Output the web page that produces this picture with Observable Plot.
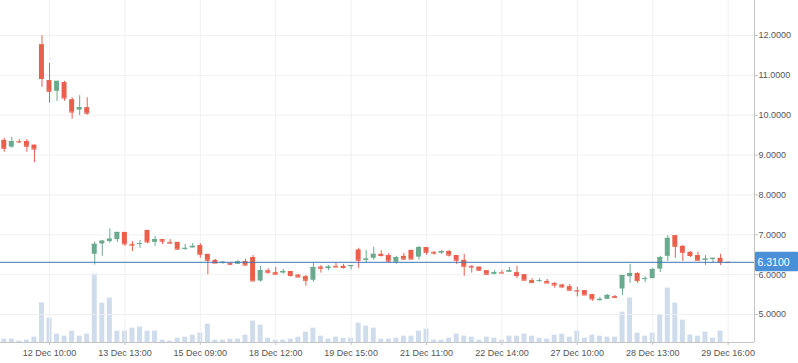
<!DOCTYPE html>
<html><head><meta charset="utf-8">
<script src="https://cdn.jsdelivr.net/npm/d3@7"></script>
<script src="https://cdn.jsdelivr.net/npm/@observablehq/plot@0.6"></script>
<style>
html,body{margin:0;padding:0;background:#fff;}
#wrap{position:relative;width:798px;height:363px;overflow:hidden;}
#wrap svg{position:absolute;left:0;top:0;}
</style></head><body><div id="wrap"></div>
<script>
const opens = [9.37,9.20,9.34,9.34,9.25,11.77,10.87,10.60,10.82,10.39,10.13,10.19,
  6.51,6.77,6.83,6.88,7.06,6.76,6.77,7.11,6.81,6.88,6.81,6.81,6.64,6.67,6.73,6.51,6.36,6.29,
  6.28,6.26,6.33,6.43,5.84,6.10,6.05,6.04,6.08,5.99,5.95,5.86,6.19,6.15,6.21,6.21,6.20,6.62,
  6.36,6.41,6.51,6.48,6.31,6.46,6.61,6.44,6.68,6.56,6.54,6.58,6.48,6.36,6.21,6.19,6.10,6.01,
  6.05,6.06,6.05,6.00,5.85,5.84,5.83,5.78,5.74,5.70,5.60,5.60,5.50,5.35,5.38,5.45,5.64,5.95,
  6.03,5.88,5.90,6.14,6.46,6.98,6.71,6.56,6.48,6.36,6.38,6.41,6.31];
const highs = [9.42,9.44,9.39,9.39,9.25,11.99,11.30,10.85,10.85,10.44,10.49,10.44,
  6.82,6.86,7.15,7.06,7.06,6.83,6.86,7.11,6.96,6.88,6.88,6.81,6.76,6.78,6.78,6.51,6.38,6.33,
  6.31,6.36,6.39,6.48,6.21,6.15,6.18,6.13,6.08,6.00,5.98,6.29,6.23,6.23,6.29,6.26,6.23,6.66,
  6.60,6.69,6.60,6.53,6.46,6.53,6.61,6.71,6.68,6.58,6.61,6.61,6.48,6.51,6.23,6.19,6.10,6.10,
  6.10,6.18,6.21,6.00,5.90,5.90,5.88,5.80,5.76,5.75,5.68,5.60,5.50,5.43,5.50,5.48,5.98,6.26,
  6.05,5.95,6.16,6.46,6.98,6.98,6.73,6.58,6.56,6.48,6.41,6.51,6.31];
const lows = [9.07,9.17,9.29,9.07,8.81,10.70,10.30,10.35,10.35,9.90,9.99,10.00,
  6.24,6.46,6.79,6.81,6.71,6.58,6.66,6.78,6.71,6.76,6.79,6.61,6.61,6.67,6.41,6.00,6.29,6.26,
  6.23,6.26,6.21,5.84,5.81,6.01,6.01,6.01,5.94,5.94,5.71,5.81,6.04,6.10,6.19,6.14,6.12,6.16,
  6.29,6.36,6.44,6.29,6.26,6.36,6.39,6.36,6.49,6.49,6.51,6.44,6.26,5.96,6.04,6.09,5.99,5.99,
  6.04,6.06,5.90,5.86,5.80,5.81,5.79,5.66,5.66,5.59,5.44,5.49,5.33,5.33,5.38,5.40,5.48,5.78,
  5.78,5.80,5.90,6.05,6.33,6.41,6.33,6.43,6.36,6.23,6.29,6.23,6.31];
const closes = [9.17,9.34,9.33,9.22,9.15,10.92,10.60,10.85,10.43,10.08,10.19,10.05,
  6.76,6.84,6.89,7.06,6.77,6.74,6.78,6.82,6.88,6.84,6.79,6.64,6.66,6.71,6.51,6.36,6.29,6.31,
  6.26,6.32,6.24,5.84,6.10,6.06,6.01,6.08,5.98,5.94,5.86,6.18,6.16,6.19,6.19,6.18,6.23,6.36,
  6.39,6.51,6.48,6.34,6.43,6.39,6.39,6.68,6.56,6.54,6.58,6.49,6.36,6.21,6.19,6.11,6.01,6.05,
  6.04,6.10,5.98,5.86,5.80,5.85,5.79,5.74,5.69,5.61,5.59,5.49,5.39,5.38,5.48,5.43,5.98,6.03,
  5.85,5.90,6.13,6.43,6.91,6.71,6.56,6.48,6.36,6.39,6.41,6.31,6.31];
const volumes = [10,10,4,7,16,119,73,25,19,34,19,25,
  205,118,133,34,34,43,46,34,34,7,4,13,16,22,28,55,7,7,
  10,10,22,64,52,13,7,7,10,16,31,43,19,10,16,12,13,58,
  49,43,10,10,13,19,19,34,40,7,7,13,25,19,16,7,16,13,
  7,19,19,25,19,13,10,22,25,16,34,13,22,19,16,16,91,133,
  28,19,28,82,163,118,67,22,19,31,13,34,0];
const tickIndex = [6,16,26,36,46,56,66,76,86,96];
const tickLabels = ["12 Dec 10:00","13 Dec 13:00","15 Dec 09:00","18 Dec 12:00","19 Dec 15:00",
  "21 Dec 11:00","22 Dec 14:00","27 Dec 10:00","28 Dec 13:00","29 Dec 16:00"];
const yTicks = [5,6,7,8,9,10,11,12];
const lastPrice = 6.31;

const RED = "#ea5f4c", GREEN = "#6aaa8e", VOL = "#cfdcec", GRID = "#eeeeee", AXIS = "#c4c4c4";
const FONT = "Liberation Sans, Arial, sans-serif";
const W = 798, H = 363;
const candles = opens.map((o, i) => ({i, o, h: highs[i], l: lows[i], c: closes[i], v: volumes[i],
  dir: closes[i] > o ? "up" : "down"}));
const slots = d3.range(opens.length + 3);
const xScale = {type: "band", domain: slots, paddingInner: 0.34, paddingOuter: 0.17};
const yDomain = [4.298, 12.878];
const volShare = 0.2;
const common = {width: W, height: H, marginLeft: 0, marginRight: 44, marginTop: 0, marginBottom: 21};
const style = {fontFamily: FONT, fontSize: "9px", color: "#555", background: "transparent"};

const volPlot = Plot.plot({
  ...common, style,
  x: {...xScale, axis: null, label: null},
  y: {domain: [0, d3.max(volumes) / volShare], axis: null, label: null},
  marks: [
    Plot.barY(candles, {x: "i", y: "v", fill: VOL})
  ]
});

const pricePlot = Plot.plot({
  ...common, style,
  x: {...xScale, axis: null, label: null},
  y: {domain: yDomain, axis: null, label: null},
  color: {domain: ["up", "down"], range: [GREEN, RED]},
  marks: [
    Plot.gridY(yTicks, {stroke: GRID, strokeOpacity: 0.9}),
    Plot.gridX(tickIndex, {stroke: GRID, strokeOpacity: 0.9}),
    Plot.ruleY([yDomain[0]], {stroke: AXIS}),
    Plot.ruleX(candles, {x: "i", y1: "l", y2: "h", stroke: "dir"}),
    Plot.barY(candles, {x: "i", y1: "o", y2: "c", fill: "dir"}),
    Plot.tickY(candles, {x: "i", y: "c", stroke: "dir"}),
    Plot.ruleY([lastPrice], {stroke: "#3f76b8", strokeWidth: 1}),
    Plot.axisY(yTicks, {anchor: "right", label: null, tickSize: 3, tickPadding: 1, tickFormat: d3.format(".4f"),
      fontSize: 9, stroke: AXIS, fill: "#555"}),
    Plot.axisX(tickIndex, {anchor: "bottom", label: null, tickSize: 3, tickPadding: 4,
      tickFormat: d => tickLabels[tickIndex.indexOf(d)], fontSize: 9, stroke: AXIS, fill: "#555"})
  ]
});

const wrap = document.getElementById("wrap");
wrap.appendChild(volPlot);
wrap.appendChild(pricePlot);

// right axis line and price tag, placed with the plot's own y scale
const ys = pricePlot.scale("y");
const xEdge = W - common.marginRight;
const svg = d3.select(pricePlot);
svg.append("line").attr("x1", xEdge + 0.5).attr("x2", xEdge + 0.5)
  .attr("y1", ys.apply(yDomain[1])).attr("y2", ys.apply(yDomain[0]))
  .attr("stroke", AXIS);
const yPix = ys.apply(lastPrice);
svg.append("rect").attr("x", xEdge + 1).attr("y", yPix - 10).attr("width", common.marginRight - 1).attr("height", 19.5)
  .attr("fill", "#4a90d9").attr("rx", 1);
svg.append("text").attr("x", xEdge + 3.5).attr("y", yPix).attr("dy", "0.36em")
  .attr("text-anchor", "start")
  .attr("fill", "#fff").attr("font-size", 10.5).attr("font-family", FONT)
  .text(d3.format(".4f")(lastPrice));
</script>
</body></html>
